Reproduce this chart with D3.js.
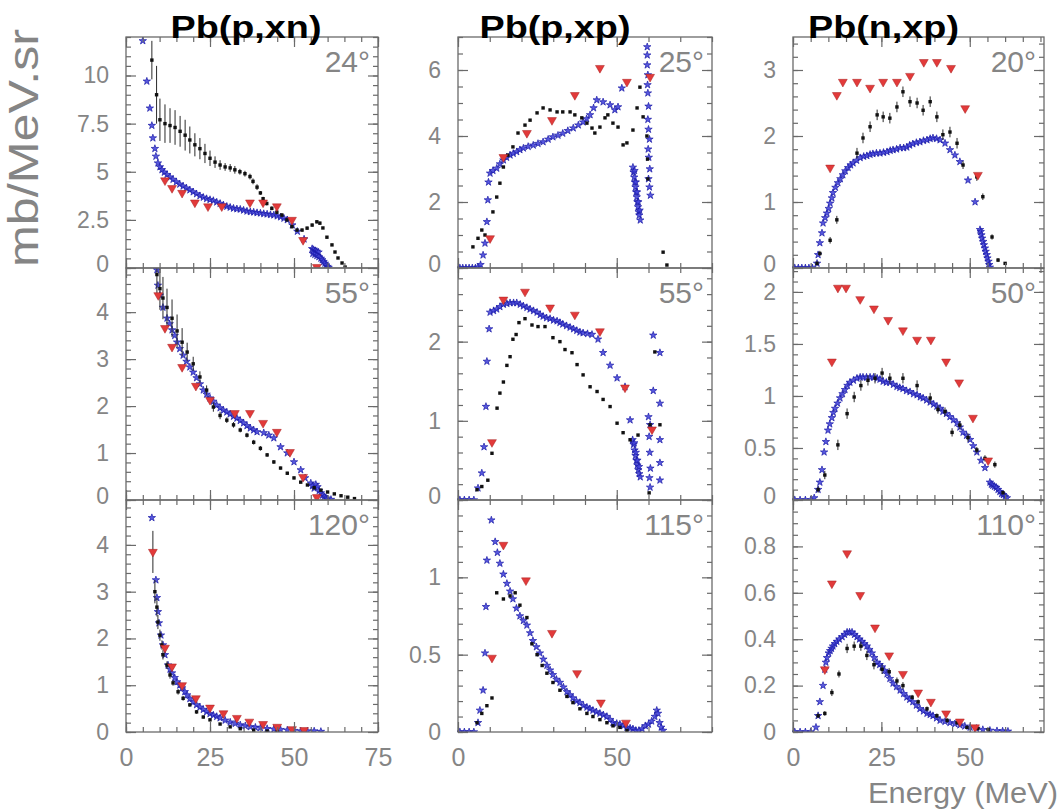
<!DOCTYPE html>
<html><head><meta charset="utf-8">
<script src="https://cdn.jsdelivr.net/npm/d3@7"></script>
<style>body{margin:0;background:#fff}svg{display:block}text{font-family:"Liberation Sans",Arial,sans-serif}</style>
</head><body><svg id="c" width="1061" height="809"></svg>
<script>
// ---------------- DATA ----------------
const titles = ["Pb(p,xn)", "Pb(p,xp)", "Pb(n,xp)"];
const angles = ["24°", "25°", "20°", "55°", "55°", "50°", "120°", "115°", "110°"];
const xMajor = [[0, 25, 50, 75], [0, 50], [0, 25, 50]];
const xMinorStep = [5, 10, 5];
const xMax = [75, 80, 71];
const yMax = [12, 7, 3.5, 4.94, 2.93, 2.23, 4.96, 1.5, 1.0];
const yMajor = [[0, 2.5, 5, 7.5, 10], [0, 2, 4, 6], [0, 1, 2, 3],
                [0, 1, 2, 3, 4], [0, 1, 2], [0, 0.5, 1, 1.5, 2],
                [0, 1, 2, 3, 4], [0, 0.5, 1], [0, 0.2, 0.4, 0.6, 0.8]];
const yMinorStep = [0.5, 0.5, 0.2, 0.2, 0.2, 0.1, 0.2, 0.1, 0.05];

// Pb(p,xn) 24 deg: experiment [E, value, error], model stars [E, value], calc triangles [E, value]
const pxn24_exp = [[7.7,10.8,1.0],[9.1,9.0,1.5],[10.1,7.7,1.1],[11.6,7.5,1.0],[13.1,7.4,0.9],[14.6,7.3,0.9],[16.1,7.1,0.8],[17.6,6.9,0.8],[19.0,6.65,0.7],[20.5,6.4,0.6],[22.0,6.2,0.55],[23.5,5.95,0.5],[25.0,5.7,0.4],[26.5,5.5,0.3],[28.0,5.35,0.25],[29.5,5.25,0.2],[31.0,5.2,0.2],[32.4,5.1,0.2],[33.9,5.0,0.15],[35.4,4.9,0.15],[36.9,4.75,0.15],[37.8,4.5,0.15],[39.0,4.2,0.15],[40.0,3.9,0.1],[40.8,3.6,0.1],[41.9,3.35,0.1],[43.4,3.1,0.1],[44.9,2.9,0.1],[46.4,2.75,0.1],[47.9,2.5,0.1],[49.4,2.15,0.1],[50.9,1.97,0.08],[52.4,1.97,0.08],[53.9,2.07,0.08],[55.4,2.23,0.08],[56.8,2.4,0.08],[57.7,2.33,0.08],[58.6,2.08,0.05],[59.8,1.6,0.05],[61.3,1.2,0.05],[62.2,0.83,0.05],[63.1,0.52,0.03],[64.3,0.26,0.03],[65.2,0.05,0.02]];
const pxn24_model = [[5.0,11.8],[6.2,9.7],[7.1,8.3],[7.7,7.4],[8.0,6.75],[8.6,6.2],[8.9,5.8],[9.5,5.45],[10.1,5.25],[10.7,5.1],[11.4,4.97],[12.2,4.85],[13.1,4.72],[14,4.6],[15,4.47],[16,4.35],[17,4.25],[18,4.15],[19,4.05],[20,3.95],[21,3.85],[22,3.75],[23,3.67],[24,3.6],[25,3.55],[26,3.5],[27,3.42],[28,3.35],[29,3.27],[30,3.2],[31,3.15],[32,3.1],[33,3.07],[34,3.05],[35,3.0],[36,2.95],[37,2.92],[38,2.9],[39,2.87],[40,2.85],[41,2.82],[42,2.8],[43,2.77],[44,2.75],[45,2.7],[46,2.65],[47,2.58],[48,2.5],[49.5,2.23],[51,1.9],[53,1.5],[55.4,1.0],[55.8,0.95],[56.3,0.9],[56.8,0.86],[57.3,0.82],[55.6,0.75],[56.2,0.7],[56.8,0.64],[57.4,0.58],[58,0.5],[58.4,0.42],[58.8,0.33],[59.2,0.24],[59.6,0.15],[60,0.07],[60.3,0.02]];
const pxn24_calc = [[11.6,4.55],[13.7,4.15],[16.7,3.9],[20.5,3.4],[24.4,3.2],[28.5,3.2],[36.9,3.4],[40.8,3.4],[44.9,3.2],[49.4,2.5],[52.7,1.45],[56.8,0.05]];

// Pb(p,xp) 25 deg
const pxp25_exp = [[4.7,0.64,0],[6.3,0.9,0],[7.5,1.15,0],[8.5,1.0,0],[11,1.7,0],[12.2,2.15,0],[13.2,2.57,0],[14.3,3.06,0],[15.7,3.42,0],[17.3,3.67,0],[18.9,4.09,0],[21.1,4.33,0],[22.7,4.48,0],[24.9,4.7,0],[26.8,4.85,0],[29,4.79,0],[31.2,4.73,0],[33,4.73,0],[35.3,4.73,0],[36.8,4.64,0],[39,4.55,0],[40.6,4.39,0],[42.2,4.24,0],[43.1,4.09,0],[44.7,4.27,0],[46.3,4.55,0],[47.2,4.64,0],[48.8,4.39,0],[50.4,4.27,0],[52,3.73,0],[53.2,3.79,0],[55.1,4.18,0],[56.4,4.85,0],[57.3,5.48,0],[58.3,4.58,0],[59.5,4.0,0],[59.7,3.3,0],[59.8,2.7,0],[64.6,0.48,0],[65.8,0.09,0]];
const pxp25_model = [[0.6,0],[1.5,0],[2.5,0],[3.5,0],[4.5,0],[5.5,0],[6.3,0.02],[7.1,0.1],[7.9,0.39],[8.5,0.75],[9.1,1.4],[9.4,2.06],[9.6,2.6],[10.1,2.87],[11,2.95],[12.2,3.02],[13.2,3.15],[14.3,3.27],[15.3,3.35],[16.4,3.42],[17.4,3.47],[18.5,3.52],[19.5,3.58],[20.6,3.63],[22.1,3.68],[23.7,3.72],[25.2,3.77],[26.8,3.82],[28.4,3.9],[29.9,3.97],[31.5,4.02],[33,4.08],[34.6,4.16],[36.3,4.24],[37.9,4.33],[39.4,4.42],[40.5,4.52],[41.6,4.64],[42.7,4.85],[43.7,5.09],[45.7,5.03],[47.9,4.94],[49.4,4.79],[50.4,4.88],[51.6,5.45],[55.1,3.05],[55.3,2.9],[55.5,2.75],[55.7,2.6],[55.9,2.45],[56.1,2.3],[56.3,2.15],[56.5,2.0],[56.7,1.85],[56.9,1.7],[57.1,1.6],[57.4,1.45],[55.6,2.95],[56.0,2.6],[56.4,2.3],[56.8,2.0],[57.2,1.75],[60.6,2.2],[60.3,2.45],[60.0,2.7],[60.4,3.0],[60.1,3.35],[59.9,3.6],[60.3,3.9],[60.0,4.2],[59.8,4.5],[60.0,4.9],[59.8,5.3],[59.7,5.55],[59.8,5.85],[59.6,6.15],[59.6,6.45],[59.6,6.7]];
const pxp25_calc = [[10.1,0.9],[14.3,3.36],[21.7,4.09],[29.6,4.48],[36.8,5.24],[44.7,6.06],[53.2,5.64],[60.5,5.79]];

// Pb(n,xp) 20 deg
const nxp20_exp = [[6.8,0.07,0.03],[7.6,0.22,0.04],[10.5,0.42,0.05],[12.4,0.73,0.06],[18.1,1.74,0.08],[19.8,1.97,0.08],[21.8,2.14,0.08],[23.8,2.32,0.08],[25.5,2.29,0.08],[27.4,2.27,0.08],[29.4,2.44,0.08],[31.1,2.67,0.08],[33.1,2.52,0.08],[35.1,2.5,0.08],[36.8,2.39,0.08],[38.8,2.52,0.08],[40.7,2.29,0.08],[42.4,2.02,0.08],[44.4,2.06,0.08],[46.4,1.89,0.08],[48.1,1.56,0.06],[52,1.38,0.06],[53.7,1.08,0.05],[56.3,0.47,0.04],[58,0.12,0.03],[60,0.07,0.02]];
const nxp20_model = [[0.5,0],[1.5,0],[2.5,0],[3.5,0],[4.5,0],[5.5,0],[6.8,0.07],[7.1,0.2],[7.6,0.38],[8.2,0.53],[8.5,0.68],[9.1,0.76],[9.6,0.83],[10.1,0.9],[10.5,0.98],[11,1.06],[11.3,1.14],[12,1.22],[12.7,1.29],[13.4,1.35],[14.1,1.41],[14.8,1.47],[15.6,1.52],[16.3,1.56],[17,1.59],[18,1.63],[19,1.67],[20,1.69],[20.9,1.7],[21.8,1.72],[22.6,1.73],[23.6,1.74],[24.6,1.74],[25.6,1.75],[26.6,1.76],[27.5,1.78],[28.3,1.79],[29.3,1.8],[30.3,1.82],[31.3,1.82],[32.2,1.83],[33,1.86],[33.9,1.88],[34.9,1.9],[35.9,1.91],[36.9,1.93],[37.9,1.94],[38.8,1.96],[39.6,1.97],[40.6,1.96],[41.6,1.94],[43,1.89],[44.4,1.79],[45.8,1.71],[47.2,1.61],[49.5,1.33],[51.5,1.0],[52.9,0.58],[53.1,0.55],[53.3,0.5],[53.5,0.45],[53.8,0.4],[54,0.35],[54.3,0.3],[54.5,0.25],[54.8,0.2],[55,0.15],[55.3,0.1],[55.5,0.05],[55.7,0.01]];
const nxp20_calc = [[10.5,1.52],[12.4,2.62],[14.1,2.82],[18.1,2.82],[21.8,2.73],[25.5,2.82],[29.4,2.82],[33.1,2.91],[37,3.12],[40.7,3.12],[44.7,3.03],[48.7,2.42],[52.3,1.41]];

// Pb(p,xn) 55 deg
const pxn55_exp = [[9.2,4.8,0.45],[10.1,4.5,0.45],[11,4.3,0.45],[12.2,4.1,0.4],[13.7,3.87,0.4],[15.2,3.6,0.35],[16.7,3.36,0.3],[18.2,3.15,0.2],[20,2.9,0.15],[22,2.62,0.12],[24,2.34,0.1],[26,1.98,0.1],[28,1.8,0.08],[30,1.7,0.06],[32,1.6,0.06],[34,1.49,0.05],[36,1.38,0.05],[38,1.23,0.05],[40,1.1,0.05],[42,0.96,0.04],[44,0.81,0.04],[46,0.68,0.03],[48,0.57,0.03],[50,0.47,0.03],[52,0.38,0.02],[54,0.32,0.02],[56,0.26,0.02],[58,0.21,0.02],[60,0.17,0.02],[62,0.13,0.01],[64,0.09,0.01],[66,0.06,0.01],[68,0.03,0.01]];
const pxn55_model = [[9.2,4.9],[9.5,4.57],[10.1,4.36],[11,4.1],[12.2,3.87],[13,3.75],[13.7,3.62],[14.5,3.5],[15.2,3.36],[16,3.22],[17,3.08],[18,2.95],[19,2.83],[20,2.72],[21,2.6],[22,2.47],[23,2.34],[24,2.25],[25,2.17],[26,2.1],[27,2.02],[28,1.96],[29,1.91],[30,1.87],[31,1.83],[32,1.78],[33,1.74],[34,1.69],[35,1.64],[36,1.58],[37,1.53],[38,1.49],[39,1.45],[41,1.43],[42.5,1.38],[44,1.32],[46,1.13],[48,1.0],[50,0.81],[52,0.64],[53.3,0.47],[55,0.36],[55.5,0.3],[56,0.25],[56.5,0.33],[57,0.28],[57.5,0.2],[58,0.15],[58.5,0.1],[59,0.07],[59.5,0.04],[60,0.02],[61,0.01]];
const pxn55_calc = [[9.6,4.36],[11.6,3.66],[13.7,3.26],[16.7,2.83],[20.8,2.43],[25,2.13],[32.4,1.85],[36.9,1.85],[40.8,1.64],[44.9,1.45],[48.8,1.02],[52.7,0.49],[56.8,0.06]];

// Pb(p,xp) 55 deg
const pxp55_exp = [[6,0.13,0],[7.5,0.17,0],[9.4,0.25,0],[10.7,0.59,0],[12.3,1.16,0],[13.2,1.35,0],[14.3,1.49,0],[15.4,1.7,0],[16.4,1.81,0],[17.3,2.03,0],[18.3,2.09,0],[19.2,2.24,0],[21.1,2.29,0],[23.3,2.21,0],[25.2,2.19,0],[27.4,2.19,0],[29.9,2.05,0],[32.1,2.0,0],[33.7,1.9,0],[35.9,1.86,0],[37.5,1.71,0],[39.4,1.58,0],[41.6,1.43,0],[43.8,1.37,0],[45.7,1.27,0],[47.9,1.18,0],[50.1,0.97,0],[52,0.85,0],[54.2,0.76,0],[56.7,0.82,0],[60.5,0.95,0],[63.6,0.95,0],[62,1.87,0],[60.2,0.09,0]];
const pxp55_model = [[0.6,0],[2,0],[3.5,0],[5,0],[6.3,0.15],[7.5,0.34],[8.2,0.67],[8.8,1.18],[9.1,1.75],[9.8,2.16],[10.1,2.37],[11.2,2.39],[12.2,2.41],[13.2,2.44],[14.3,2.47],[15.4,2.48],[16.4,2.49],[17.5,2.49],[18.5,2.49],[19.6,2.47],[20.6,2.45],[21.7,2.43],[22.7,2.41],[23.8,2.39],[24.9,2.37],[25.9,2.34],[26.8,2.32],[27.9,2.3],[29,2.29],[30.1,2.27],[31.2,2.26],[32.1,2.24],[33,2.22],[34.2,2.2],[35.3,2.18],[36.4,2.16],[37.4,2.14],[38.4,2.12],[39.4,2.11],[40.8,2.1],[42.2,2.09],[44.1,2.03],[45.7,1.86],[47.9,1.7],[50.1,1.54],[52.6,1.43],[54.2,1.01],[55,0.76],[55.3,0.7],[55.6,0.63],[55.9,0.56],[56.2,0.5],[56.5,0.44],[56.8,0.38],[57.1,0.33],[57.4,0.29],[55.5,0.72],[56,0.6],[56.5,0.5],[57,0.42],[61.5,2.08],[63.6,1.86],[61.5,1.38],[63.6,1.22],[60,1.05],[60.5,0.95],[63.6,0.76],[63.6,0.47],[63.6,0.25],[60.5,0.16],[60.2,0.8],[60.4,0.6],[60.6,0.4],[60.3,0.28]];
const pxp55_calc = [[10.7,0.73],[14.3,2.53],[21.1,2.63],[29,2.43],[36.8,2.34],[44.7,2.13],[52.6,1.42],[61.1,0.89]];

// Pb(n,xp) 50 deg
const nxp50_exp = [[7.1,0.1,0.03],[9,0.24,0.04],[12.7,0.53,0.05],[15.3,0.83,0.05],[17.3,0.99,0.05],[19.2,1.1,0.05],[21.2,1.15,0.05],[23.2,1.17,0.05],[25.2,1.22,0.05],[27.4,1.17,0.05],[31.1,1.17,0.05],[35.1,1.1,0.05],[38.8,0.98,0.05],[41,0.87,0.04],[43,0.85,0.04],[45,0.65,0.04],[47.2,0.72,0.04],[49.5,0.6,0.04],[52,0.48,0.03],[54.3,0.4,0.03],[57.1,0.34,0.03],[59.4,0.07,0.02]];
const nxp50_model = [[0.5,0],[2,0],[3.5,0],[5,0],[6,0.02],[7.1,0.1],[7.6,0.17],[8.2,0.29],[8.8,0.46],[9.3,0.56],[9.9,0.67],[10.4,0.73],[11,0.79],[11.4,0.84],[11.9,0.88],[12.6,0.93],[13.3,0.98],[14,1.02],[14.7,1.06],[15.4,1.1],[16.1,1.13],[17.1,1.15],[18.1,1.17],[19,1.18],[19.8,1.18],[20.8,1.18],[21.8,1.18],[22.8,1.18],[23.8,1.17],[24.6,1.16],[25.5,1.14],[26.4,1.13],[27.4,1.13],[28.4,1.11],[29.4,1.09],[30.2,1.08],[31.1,1.07],[32.1,1.05],[33.1,1.04],[34.1,1.02],[35.1,1.01],[36,0.99],[36.8,0.98],[37.8,0.96],[38.8,0.94],[39.8,0.92],[40.7,0.9],[41.6,0.88],[42.4,0.85],[43.4,0.83],[44.4,0.8],[45.4,0.77],[46.4,0.74],[47.2,0.7],[48.1,0.65],[49.1,0.62],[50.1,0.58],[51,0.52],[52,0.46],[53.2,0.38],[54.3,0.31],[55.7,0.17],[56.1,0.15],[56.5,0.14],[57,0.13],[57.5,0.12],[58,0.1],[58.5,0.08],[59,0.06],[59.5,0.05],[60,0.03],[60.5,0.02]];
const nxp50_calc = [[11,1.33],[12.7,2.04],[15,2.04],[19,1.93],[22.9,1.84],[26.9,1.73],[31.1,1.63],[35.1,1.54],[39,1.54],[43.3,1.33],[47,1.13],[50.9,0.79],[55.2,0.38]];

// Pb(p,xn) 120 deg
const pxn120_exp = [[8.0,3.85,0.45],[8.6,3.0,0.25],[9.2,2.67,0.2],[9.5,2.35,0.15],[10.1,2.07,0.12],[10.7,1.86,0.1],[11,1.65,0.1],[12.2,1.43,0.08],[13.1,1.22,0.08],[14,1.05,0.06],[15.5,0.86,0.06],[17,0.72,0.05],[19,0.58,0.04],[21,0.43,0.04],[23,0.32,0.03],[25,0.26,0.03],[28,0.17,0.02],[31,0.11,0.02],[34,0.07,0.01],[38,0.04,0.01],[42,0.02,0.01],[45,0.01,0.01]];
const pxn120_model = [[7.7,4.58],[8.9,3.25],[9.2,2.87],[9.5,2.57],[9.8,2.33],[10.4,2.07],[11,1.86],[11.6,1.65],[12.5,1.43],[13.1,1.34],[13.7,1.26],[14.5,1.16],[15.2,1.07],[16,1.0],[16.7,0.94],[17.5,0.86],[18.2,0.79],[19,0.71],[20,0.64],[21,0.58],[22,0.53],[23,0.48],[24,0.43],[25,0.39],[26,0.36],[27,0.33],[28,0.3],[29.5,0.25],[31,0.21],[32.5,0.18],[34,0.15],[35.5,0.13],[37,0.11],[38.5,0.1],[40,0.09],[42,0.07],[44,0.06],[46,0.05],[48,0.04],[50,0.03],[52,0.02],[54,0.02],[56,0.02],[58,0.01]];
const pxn120_calc = [[8.0,3.85],[11.6,1.8],[13.7,1.4],[16.7,1.0],[20.8,0.72],[25,0.52],[29,0.4],[33,0.3],[36.7,0.22],[40.8,0.17],[45,0.11],[49.4,0.06],[53,0.04]];

// Pb(p,xp) 115 deg
const pxp115_exp = [[6,0.06,0],[7.5,0.12,0],[9.1,0.17,0],[10.7,0.22,0],[12.2,0.9,0],[14.3,0.86,0],[16.4,0.88,0],[18,0.9,0],[19.5,0.82,0],[21.7,0.74,0],[23.3,0.57,0],[24.9,0.5,0],[26.5,0.43,0],[28,0.38,0],[29.9,0.32,0],[32.1,0.27,0],[34.3,0.23,0],[36.2,0.19,0],[38.4,0.15,0],[40.6,0.12,0],[42.5,0.1,0],[44.7,0.08,0],[46.9,0.06,0],[48.8,0.04,0],[51,0.03,0],[53.2,0.01,0]];
const pxp115_model = [[0.6,0],[2,0],[3.5,0],[5,0],[6.3,0.06],[6.9,0.14],[7.9,0.27],[8.5,0.51],[8.8,0.81],[9.1,1.11],[10.5,1.37],[11.7,1.23],[12.4,1.16],[13.2,1.09],[14.3,1.02],[15.4,0.96],[16.4,0.91],[17.3,0.86],[18.4,0.8],[19.5,0.75],[20.6,0.72],[21.7,0.69],[22.7,0.64],[23.6,0.59],[24.7,0.55],[25.8,0.51],[26.9,0.47],[28,0.43],[29,0.4],[29.9,0.37],[31,0.34],[32.1,0.32],[33.2,0.29],[34.3,0.26],[35.3,0.24],[36.2,0.22],[37.3,0.2],[38.4,0.19],[39.5,0.17],[40.6,0.16],[41.5,0.15],[42.5,0.14],[43.6,0.13],[44.7,0.12],[45.8,0.11],[46.9,0.1],[47.9,0.08],[48.8,0.06],[50,0.055],[51,0.05],[52.1,0.04],[53.2,0.03],[54.2,0.025],[55.1,0.02],[56,0.01],[57,0.01],[58,0.02],[59,0.04],[60,0.05],[61,0.07],[62,0.1],[62.6,0.14],[63,0.12],[63.5,0.06],[64,0.03],[64.6,0.01]];
const pxp115_calc = [[10.7,0.48],[14.3,1.21],[21.4,0.98],[29.6,0.64],[37.5,0.38],[45,0.19],[52.9,0.06]];

// Pb(n,xp) 110 deg
const nxp110_exp = [[7.1,0.07,0.01],[9,0.08,0.01],[11,0.17,0.015],[13,0.25,0.015],[15.3,0.36,0.02],[17.3,0.37,0.02],[19.2,0.37,0.02],[20.9,0.33,0.02],[22.9,0.29,0.02],[25.2,0.27,0.02],[27.2,0.26,0.015],[29.4,0.22,0.015],[31.1,0.2,0.015],[33.7,0.15,0.01],[35.4,0.13,0.01],[37.9,0.1,0.01],[40.7,0.07,0.01],[43.6,0.05,0.01],[46.4,0.04,0.005],[49.2,0.02,0.005],[52.3,0.015,0.005],[55.2,0.01,0.005]];
const nxp110_model = [[0.5,0],[2,0],[3.5,0],[5,0],[6.5,0.02],[7.1,0.07],[7.6,0.13],[8.5,0.2],[9,0.27],[9.3,0.3],[9.6,0.32],[10.1,0.34],[10.5,0.35],[10.9,0.36],[11.3,0.37],[11.8,0.38],[12.4,0.39],[13.1,0.4],[13.9,0.41],[14.6,0.42],[15.3,0.43],[16,0.43],[16.7,0.43],[17.4,0.42],[18.1,0.41],[18.8,0.4],[19.5,0.39],[20.2,0.38],[20.9,0.37],[21.6,0.355],[22.3,0.34],[23,0.32],[23.8,0.3],[24.5,0.29],[25.2,0.28],[25.9,0.265],[26.6,0.25],[27.4,0.23],[28.3,0.21],[29.3,0.195],[30.3,0.18],[31.3,0.165],[32.2,0.15],[33,0.14],[33.9,0.13],[34.9,0.115],[35.9,0.1],[36.9,0.09],[37.9,0.08],[38.8,0.075],[39.6,0.07],[40.6,0.06],[41.6,0.05],[43,0.045],[44.4,0.04],[45.8,0.035],[47.2,0.03],[48.6,0.025],[50.1,0.02],[51.9,0.015],[53.7,0.01],[55.7,0.007],[57.7,0.005],[59.3,0.004],[60.8,0.003]];
const nxp110_calc = [[9,0.27],[11,0.64],[15.3,0.77],[19,0.59],[23.2,0.45],[27.2,0.33],[31.1,0.25],[35.4,0.17],[39,0.13],[43.3,0.08],[47.2,0.045],[51.5,0.02]];

// ---------------- DRAWING ----------------
const expSets = [pxn24_exp, pxp25_exp, nxp20_exp, pxn55_exp, pxp55_exp, nxp50_exp, pxn120_exp, pxp115_exp, nxp110_exp];
const modelSets = [pxn24_model, pxp25_model, nxp20_model, pxn55_model, pxp55_model, nxp50_model, pxn120_model, pxp115_model, nxp110_model];
const calcSets = [pxn24_calc, pxp25_calc, nxp20_calc, pxn55_calc, pxp55_calc, nxp50_calc, pxn120_calc, pxp115_calc, nxp110_calc];

const colX = [[126, 378], [458, 712], [793, 1044]];
const rowY = [[37, 268], [268, 500], [500, 732]];
const axisCol = "#6a6a6a", labelCol = "#858585";

const svg = d3.select("#c");
const fmt = v => String(v);
const star = d3.symbol(d3.symbolStar, 17)();
const tri = d3.symbol(d3.symbolTriangle, 34)();

function styleAxis(sel) {
  sel.select(".domain").remove();
  sel.selectAll(".tick line").attr("stroke", axisCol).attr("stroke-width", 1.2);
  sel.selectAll(".tick text").attr("fill", labelCol).attr("font-family", "'Liberation Sans',Arial,sans-serif");
}

for (let i = 0; i < 9; i++) {
  const r = Math.floor(i / 3), c = i % 3;
  const [x0, x1] = colX[c], [y0, y1] = rowY[r];
  const w = x1 - x0, h = y1 - y0;
  const x = d3.scaleLinear().domain([0, xMax[c]]).range([0, w]);
  const y = d3.scaleLinear().domain([0, yMax[i]]).range([h, 0]);
  const g = svg.append("g").attr("transform", `translate(${x0},${y0})`);

  const cid = "clip" + i;
  g.append("clipPath").attr("id", cid).append("rect").attr("x", -1).attr("y", 0).attr("width", w + 2).attr("height", h);
  const m = g.append("g").attr("clip-path", `url(#${cid})`);

  // model: blue stars
  m.append("g").selectAll("path").data(modelSets[i]).join("path")
    .attr("d", star)
    .attr("transform", d => `translate(${x(d[0])},${y(d[1])})`)
    .attr("fill", "#4646dc").attr("stroke", "#1a1aa6").attr("stroke-width", 0.7).attr("fill-opacity", 0.9);

  // experiment: black points with error bars
  const ex = m.append("g");
  ex.selectAll("line").data(expSets[i].filter(d => d[2] > 0)).join("line")
    .attr("x1", d => x(d[0])).attr("x2", d => x(d[0]))
    .attr("y1", d => y(d[1] - d[2])).attr("y2", d => y(d[1] + d[2]))
    .attr("stroke", "#2a2a2a").attr("stroke-width", 1);
  ex.selectAll("rect").data(expSets[i]).join("rect")
    .attr("x", d => x(d[0]) - 1.7).attr("y", d => y(d[1]) - 1.7)
    .attr("width", 3.4).attr("height", 3.4).attr("fill", "#111");

  // calc: red down triangles
  m.append("g").selectAll("path").data(calcSets[i]).join("path")
    .attr("d", tri)
    .attr("transform", d => `translate(${x(d[0])},${y(d[1])}) rotate(180)`)
    .attr("fill", "#e23a3a").attr("stroke", "#a82020").attr("stroke-width", 0.5);

  // axes (ticks inside)
  const yMin = d3.range(0, yMax[i] + 1e-9, yMinorStep[i]);
  const xMin = d3.range(0, xMax[c] + 1e-9, xMinorStep[c]);

  const la = g.append("g").call(d3.axisLeft(y).tickValues(yMajor[i]).tickSize(-10).tickSizeOuter(0).tickPadding(17).tickFormat(fmt));
  styleAxis(la);
  la.selectAll(".tick text").attr("font-size", 23)
    .attr("transform", d => (d === 0 && r < 2) ? "translate(0,-4)" : null);
  styleAxis(g.append("g").call(d3.axisLeft(y).tickValues(yMin).tickSize(-5).tickSizeOuter(0).tickFormat("")));
  const ra = g.append("g").attr("transform", `translate(${w},0)`);
  ra.append("g").call(d3.axisRight(y).tickValues(yMajor[i]).tickSize(-10).tickSizeOuter(0).tickFormat("")).call(styleAxis);
  ra.append("g").call(d3.axisRight(y).tickValues(yMin).tickSize(-5).tickSizeOuter(0).tickFormat("")).call(styleAxis);

  const ta = g.append("g");
  ta.append("g").call(d3.axisTop(x).tickValues(xMajor[c]).tickSize(-10).tickSizeOuter(0).tickFormat("")).call(styleAxis);
  ta.append("g").call(d3.axisTop(x).tickValues(xMin).tickSize(-5).tickSizeOuter(0).tickFormat("")).call(styleAxis);
  const ba = g.append("g").attr("transform", `translate(0,${h})`);
  const bMaj = ba.append("g").call(d3.axisBottom(x).tickValues(xMajor[c]).tickSize(-10).tickSizeOuter(0).tickPadding(16).tickFormat(r === 2 ? fmt : ""));
  styleAxis(bMaj);
  bMaj.selectAll(".tick text").attr("font-size", 25);
  ba.append("g").call(d3.axisBottom(x).tickValues(xMin).tickSize(-5).tickSizeOuter(0).tickFormat("")).call(styleAxis);

  // frame
  g.append("rect").attr("width", w).attr("height", h).attr("fill", "none")
    .attr("stroke", axisCol).attr("stroke-width", 1.3);

  // angle label
  g.append("text").attr("x", w - 8).attr("y", 35).attr("text-anchor", "end")
    .attr("font-size", 30).attr("fill", labelCol).text(angles[i]);
}

// column titles
titles.forEach((t, c) => {
  const cx = (colX[c][0] + colX[c][1]) / 2 + [-6, -30, -35][c];
  svg.append("text").attr("x", cx).attr("y", 38).attr("text-anchor", "middle")
    .attr("font-size", 31).attr("font-weight", "bold").attr("fill", "#000")
    .attr("textLength", 151).attr("lengthAdjust", "spacingAndGlyphs").text(t);
});

// axis titles
svg.append("text").attr("transform", "translate(38,148) rotate(-90)").attr("text-anchor", "middle")
  .attr("font-size", 43).attr("fill", labelCol).attr("textLength", 238).attr("lengthAdjust", "spacingAndGlyphs")
  .text("mb/MeV.sr");
svg.append("text").attr("x", 1058).attr("y", 803).attr("text-anchor", "end")
  .attr("font-size", 30).attr("fill", labelCol).attr("textLength", 190).attr("lengthAdjust", "spacingAndGlyphs")
  .text("Energy (MeV)");
</script></body></html>
